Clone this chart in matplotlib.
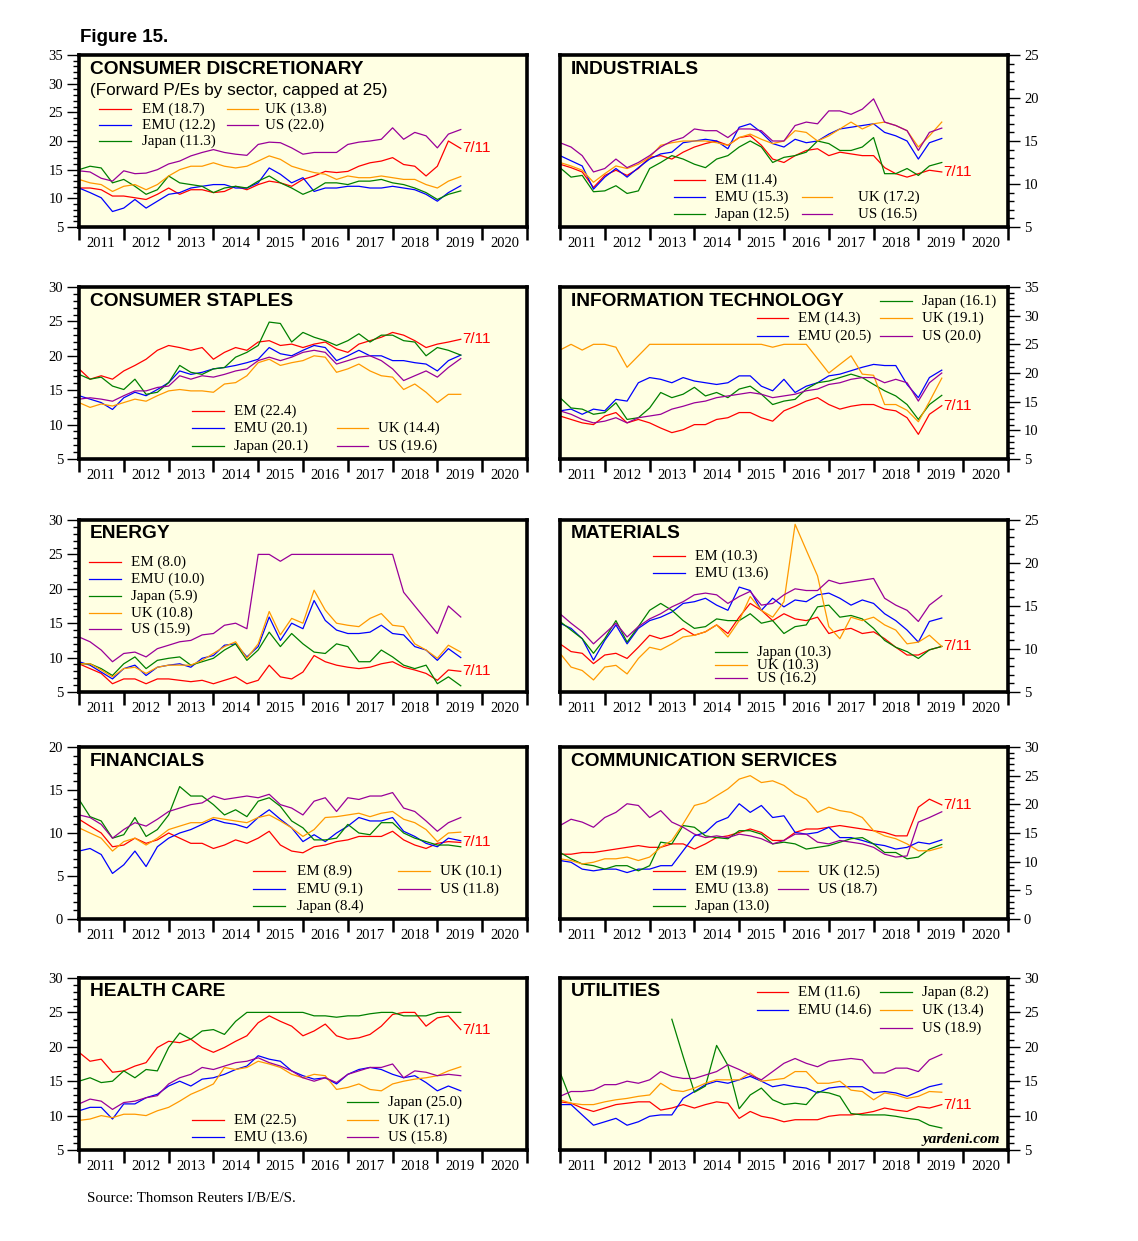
import numpy as np
import pandas as pd
import matplotlib
matplotlib.use("Agg")
import matplotlib.pyplot as plt
import matplotlib.dates as mdates
from matplotlib.lines import Line2D
from matplotlib.ticker import MultipleLocator, NullFormatter

nan = np.nan

# quarterly readings, last one is 7/11/2019
dates = list(pd.date_range("2011-01-01", "2019-04-01", freq="QS")) + [pd.Timestamp("2019-07-11")]

names = ["EM", "EMU", "Japan", "UK", "US"]
colors = {"EM": "#ff0000", "EMU": "#0000ff", "Japan": "#008000", "UK": "#ff9900", "US": "#990099"}

# consumer discretionary
cd_em = [11.8, 11.8, 11.5, 10.4, 10.4, 10.1, 9.8, 10.7, 11.8, 10.7, 11.5, 11.5, 11.0, 11.2, 12.1, 11.5,
         12.4, 13.0, 12.7, 12.1, 13.3, 13.9, 14.7, 14.5, 14.7, 15.6, 16.2, 16.5, 17.1, 15.9, 15.6, 13.9,
         15.6, 20.0, 18.7]
cd_emu = [11.8, 11.0, 10.1, 7.7, 8.3, 9.8, 8.3, 9.5, 10.7, 11.0, 11.8, 12.1, 12.4, 12.4, 11.8, 11.8,
          12.7, 15.3, 14.2, 12.7, 13.6, 11.2, 11.8, 11.8, 12.1, 12.1, 11.8, 11.8, 12.1, 11.8, 11.5, 10.7,
          9.5, 11.0, 12.2]
cd_japan = [15.0, 15.6, 15.3, 12.7, 13.3, 12.1, 10.7, 11.5, 13.9, 12.7, 12.4, 12.1, 11.0, 11.8, 12.1, 11.8,
            13.0, 13.9, 12.7, 11.8, 10.7, 11.5, 12.7, 12.7, 12.4, 13.0, 13.0, 13.3, 12.7, 12.4, 11.8, 11.0,
            9.8, 10.7, 11.3]
cd_uk = [13.3, 12.7, 12.4, 11.2, 12.1, 12.4, 11.5, 12.4, 13.9, 15.0, 15.6, 15.6, 16.2, 15.6, 15.3, 15.6,
         16.5, 17.4, 16.8, 15.6, 15.0, 14.5, 14.2, 13.3, 13.9, 13.6, 13.6, 13.9, 13.6, 13.3, 13.3, 12.4,
         11.8, 13.0, 13.8]
cd_us = [14.8, 14.6, 13.5, 13.0, 14.8, 14.3, 14.4, 15.0, 16.0, 16.5, 17.4, 18.0, 18.5, 18.0, 17.7, 17.5,
         19.4, 19.8, 19.7, 18.8, 17.7, 18.0, 18.0, 18.0, 19.4, 19.8, 20.0, 20.3, 22.3, 20.3, 21.5, 20.9,
         18.8, 21.2, 22.0]

# industrials
ind_em = [12.3, 11.9, 11.4, 9.6, 11.0, 11.6, 11.0, 11.8, 13.1, 13.3, 12.9, 13.7, 14.3, 14.7, 15.0, 14.5,
          15.4, 15.6, 14.5, 12.9, 12.5, 13.3, 13.9, 14.1, 13.3, 13.7, 13.5, 13.3, 13.3, 11.9, 11.2, 10.8,
          11.2, 11.6, 11.4]
ind_emu = [13.3, 12.7, 12.1, 9.4, 10.8, 11.8, 10.8, 11.9, 12.9, 13.5, 13.7, 14.8, 15.0, 15.2, 15.0, 14.1,
           16.6, 17.0, 16.0, 14.7, 14.3, 15.2, 14.8, 15.0, 15.8, 16.4, 16.6, 16.8, 17.0, 16.0, 15.6, 15.0,
           12.9, 14.8, 15.3]
ind_japan = [11.9, 10.8, 11.0, 9.1, 9.2, 9.8, 8.9, 9.2, 11.8, 12.5, 13.3, 12.9, 12.3, 11.9, 12.9, 13.3,
             14.3, 15.0, 14.3, 12.5, 13.1, 13.3, 13.7, 15.0, 14.7, 13.9, 13.9, 14.3, 15.4, 11.2, 11.2, 11.8,
             11.0, 12.1, 12.5]
ind_uk = [12.5, 12.1, 11.6, 10.2, 11.2, 12.1, 11.8, 12.3, 13.1, 14.5, 14.8, 15.0, 15.0, 15.0, 14.8, 14.5,
          15.4, 15.8, 15.2, 14.7, 15.0, 16.2, 16.0, 15.0, 15.6, 16.4, 17.2, 16.4, 17.0, 17.2, 16.8, 16.2,
          14.3, 15.6, 17.2]
ind_us = [14.8, 14.3, 13.3, 11.4, 11.8, 12.9, 11.9, 12.5, 13.3, 14.3, 15.0, 15.4, 16.4, 16.2, 16.2, 15.4,
          16.4, 16.4, 16.2, 15.0, 15.0, 16.8, 17.2, 17.0, 18.5, 18.5, 18.1, 18.7, 19.9, 17.2, 16.8, 16.2,
          13.9, 16.0, 16.5]

# consumer staples
cs_em = [18.1, 16.6, 17.1, 16.6, 17.8, 18.6, 19.5, 20.8, 21.5, 21.2, 20.8, 21.2, 19.5, 20.5, 21.2, 20.8,
         22.0, 22.2, 21.5, 21.7, 21.2, 21.7, 22.0, 21.0, 20.5, 21.7, 22.2, 22.7, 23.4, 23.0, 22.2, 21.2,
         21.7, 22.0, 22.4]
cs_emu = [14.2, 13.7, 13.2, 12.2, 13.9, 14.7, 14.2, 15.1, 16.1, 17.8, 17.3, 17.6, 18.1, 18.3, 18.6, 19.0,
          19.5, 21.2, 20.3, 20.0, 20.8, 21.5, 21.2, 19.3, 20.0, 20.8, 20.0, 20.0, 19.3, 19.3, 19.0, 18.8,
          17.8, 19.3, 20.1]
cs_japan = [17.3, 16.6, 16.9, 15.6, 15.1, 16.6, 14.4, 14.7, 16.1, 18.6, 17.6, 17.3, 18.1, 18.3, 19.8, 20.5,
            21.5, 24.9, 24.7, 22.0, 23.4, 22.7, 22.2, 21.5, 22.2, 23.2, 22.0, 23.0, 23.0, 22.2, 22.0, 20.0,
            21.2, 20.8, 20.1]
cs_uk = [13.2, 12.5, 13.0, 12.7, 13.2, 13.7, 13.4, 14.2, 14.9, 15.1, 14.9, 14.9, 14.7, 15.9, 16.1, 17.1,
         19.0, 19.5, 18.6, 19.0, 19.3, 20.0, 19.8, 17.6, 18.1, 18.8, 17.8, 17.1, 16.9, 15.1, 15.9, 14.7,
         13.2, 14.4, 14.4]
cs_us = [13.7, 13.9, 13.7, 13.4, 14.2, 14.9, 14.9, 15.4, 15.6, 17.1, 16.6, 17.1, 16.9, 17.3, 17.8, 18.1,
         19.3, 19.8, 19.3, 19.8, 20.5, 20.8, 20.5, 18.8, 19.3, 19.8, 20.0, 19.3, 18.1, 16.4, 17.1, 17.8,
         16.9, 18.3, 19.6]

# information technology
it_em = [12.5, 11.9, 11.3, 11.0, 12.5, 13.1, 11.3, 11.9, 11.3, 10.4, 9.6, 10.1, 11.0, 11.0, 11.9, 12.2,
         13.1, 13.1, 12.2, 11.6, 13.4, 14.2, 15.1, 15.7, 14.5, 13.7, 14.2, 14.5, 14.5, 13.7, 13.4, 12.2,
         9.3, 12.8, 14.3]
it_emu = [13.4, 13.7, 12.8, 13.7, 13.4, 15.4, 15.1, 18.3, 19.2, 18.9, 18.3, 19.2, 18.6, 18.3, 18.0, 18.3,
          19.5, 19.5, 17.7, 16.9, 18.9, 16.6, 17.7, 18.3, 19.5, 19.8, 20.4, 21.0, 21.5, 21.3, 21.3, 18.0,
          15.7, 19.2, 20.5]
it_japan = [15.7, 13.9, 13.7, 12.8, 13.1, 14.8, 11.9, 12.2, 13.9, 16.6, 15.7, 16.3, 17.5, 16.0, 16.6, 15.7,
            17.2, 17.7, 16.3, 14.5, 15.1, 15.4, 17.2, 18.3, 18.6, 19.2, 19.8, 19.2, 18.0, 16.9, 16.0, 14.5,
            11.9, 14.5, 16.1]
it_uk = [24.0, 25.0, 24.0, 25.0, 25.0, 24.5, 21.0, 23.0, 25.0, 25.0, 25.0, 25.0, 25.0, 25.0, 25.0, 25.0,
         25.0, 25.0, 25.0, 24.5, 25.0, 25.0, 25.0, 22.5, 20.0, 21.5, 23.0, 19.8, 19.6, 14.5, 14.5, 13.5,
         11.5, 15.0, 19.1]
it_us = [13.4, 12.8, 11.9, 11.3, 11.6, 12.2, 11.3, 12.2, 12.5, 12.8, 13.7, 14.2, 14.8, 15.1, 15.7, 16.0,
         16.3, 16.6, 16.3, 15.7, 16.0, 16.3, 16.9, 17.2, 18.0, 18.3, 18.9, 19.2, 19.2, 18.3, 18.9, 18.3,
         15.1, 18.3, 20.0]

# energy
en_em = [9.1, 8.4, 7.7, 6.2, 6.9, 6.9, 6.2, 6.9, 6.9, 6.7, 6.5, 6.7, 6.2, 6.7, 7.2, 6.2,
         6.7, 8.9, 7.2, 6.9, 7.9, 10.3, 9.4, 8.9, 8.6, 8.4, 8.6, 9.1, 9.4, 8.6, 8.2, 7.7,
         6.7, 8.2, 8.0]
en_emu = [9.4, 8.9, 7.9, 6.9, 8.4, 8.9, 7.4, 8.6, 8.9, 9.1, 8.6, 9.9, 10.3, 11.8, 12.0, 10.1,
          11.6, 15.9, 12.5, 15.0, 14.2, 18.3, 15.4, 14.0, 13.5, 13.5, 13.7, 14.7, 13.5, 13.3, 11.6, 11.1,
          9.6, 11.3, 10.0]
en_japan = [9.1, 9.1, 8.4, 7.4, 9.1, 10.1, 8.4, 9.6, 9.9, 10.1, 8.9, 9.4, 9.9, 11.1, 12.0, 9.6,
            11.1, 13.7, 11.6, 13.5, 12.0, 10.8, 10.6, 12.0, 11.6, 9.4, 9.4, 11.1, 10.1, 8.9, 8.4, 8.9,
            6.2, 7.2, 5.9]
en_uk = [9.1, 9.1, 8.2, 7.2, 8.4, 8.6, 7.7, 8.6, 8.9, 8.9, 8.9, 9.6, 10.6, 11.6, 12.3, 9.9,
         12.0, 16.7, 13.3, 15.7, 15.0, 19.8, 16.9, 15.0, 14.7, 14.5, 15.7, 16.4, 14.7, 14.5, 12.0, 11.1,
         9.9, 11.8, 10.8]
en_us = [13.0, 12.3, 11.1, 9.4, 10.6, 10.8, 10.1, 11.3, 11.8, 12.3, 12.5, 13.3, 13.5, 14.7, 15.0, 14.2,
         25.0, 25.0, 24.0, 25.0, 25.0, 25.0, 25.0, 25.0, 25.0, 25.0, 25.0, 25.0, 25.0, 19.5, 17.5, 15.5,
         13.5, 17.5, 15.9]

# materials
ma_em = [10.6, 9.7, 9.5, 8.3, 9.3, 9.5, 8.9, 10.2, 11.6, 11.2, 11.6, 12.4, 11.6, 12.0, 12.8, 11.8,
         13.7, 15.3, 14.5, 13.3, 14.1, 13.5, 13.3, 13.7, 11.8, 12.2, 12.4, 11.8, 12.0, 11.2, 10.2, 9.3,
         9.3, 9.9, 10.3]
ma_emu = [13.0, 12.4, 11.2, 8.7, 11.0, 12.8, 10.6, 12.4, 13.3, 13.7, 14.3, 15.3, 15.5, 15.9, 15.1, 14.5,
          17.2, 16.8, 14.5, 15.9, 14.9, 15.7, 15.5, 16.3, 16.5, 15.9, 15.1, 15.7, 15.3, 14.1, 13.3, 12.2,
          10.8, 13.2, 13.6]
ma_japan = [13.2, 12.2, 11.2, 9.5, 11.2, 13.3, 10.8, 12.6, 14.5, 15.3, 14.5, 13.3, 12.4, 12.6, 13.5, 13.3,
            13.3, 14.1, 13.0, 13.3, 11.8, 12.6, 12.8, 14.9, 15.1, 13.7, 13.9, 13.5, 12.4, 11.0, 10.2, 9.7,
            8.9, 9.9, 10.3]
ma_uk = [9.5, 7.9, 7.5, 6.4, 7.9, 8.1, 7.1, 8.9, 10.2, 9.9, 10.6, 11.4, 11.6, 12.0, 12.8, 11.4,
         13.3, 16.1, 14.5, 13.7, 15.5, 24.5, 21.5, 18.5, 12.6, 11.2, 13.7, 13.3, 13.7, 12.8, 12.2, 10.6,
         10.8, 11.6, 10.3]
ma_us = [14.1, 13.0, 12.0, 10.6, 11.8, 13.0, 11.4, 12.6, 13.5, 14.1, 14.9, 15.5, 16.3, 16.5, 16.3, 15.3,
         16.1, 16.7, 15.1, 15.3, 16.3, 17.0, 16.8, 16.8, 18.0, 17.6, 17.8, 18.0, 18.2, 15.9, 15.1, 14.5,
         13.2, 15.1, 16.2]

# financials
fi_em = [11.6, 10.8, 10.0, 8.4, 8.6, 9.4, 8.8, 9.2, 10.0, 9.4, 8.8, 8.8, 8.2, 8.6, 9.2, 8.8,
         9.4, 10.2, 8.6, 7.9, 7.7, 8.4, 8.6, 9.0, 9.2, 9.6, 9.6, 9.6, 10.2, 9.2, 8.6, 8.2,
         8.8, 9.0, 8.9]
fi_emu = [7.9, 8.2, 7.5, 5.3, 6.3, 7.9, 6.1, 8.4, 9.4, 10.0, 10.4, 11.0, 11.6, 11.2, 11.0, 10.6,
          11.8, 12.7, 11.6, 10.6, 9.0, 9.8, 9.0, 10.0, 10.8, 11.8, 11.4, 11.4, 11.8, 10.2, 9.6, 8.8,
          8.4, 9.4, 9.1]
fi_japan = [13.9, 11.9, 11.4, 9.4, 9.8, 11.8, 9.6, 10.4, 12.1, 15.4, 14.3, 14.3, 13.3, 12.1, 12.7, 11.9,
            13.7, 14.1, 13.1, 11.4, 10.6, 9.2, 9.2, 9.4, 11.0, 10.0, 9.8, 11.2, 11.2, 10.0, 9.4, 9.0,
            8.6, 8.6, 8.4]
fi_uk = [10.6, 10.0, 9.4, 7.9, 9.0, 9.4, 8.6, 9.4, 10.4, 10.8, 11.2, 11.2, 11.8, 11.6, 11.4, 11.2,
         11.8, 12.1, 11.4, 10.6, 9.6, 10.4, 11.8, 11.9, 12.1, 12.3, 11.9, 12.3, 12.5, 11.6, 11.2, 10.4,
         9.0, 10.0, 10.1]
fi_us = [12.1, 11.8, 11.0, 9.4, 10.4, 11.2, 10.8, 11.6, 12.5, 12.9, 13.3, 13.5, 14.3, 13.9, 14.1, 14.3,
         14.1, 14.5, 13.3, 12.9, 12.1, 13.7, 14.1, 12.5, 14.1, 13.9, 14.3, 14.3, 14.7, 12.9, 12.5, 11.4,
         10.2, 11.2, 11.8]

# communication services
co_em = [11.3, 11.3, 11.6, 11.6, 11.9, 12.2, 12.5, 12.8, 12.5, 12.5, 13.1, 13.1, 12.2, 13.1, 14.2, 14.5,
         15.1, 15.7, 15.1, 13.7, 13.7, 15.1, 15.7, 15.7, 16.0, 16.3, 16.0, 15.7, 15.4, 15.1, 14.5, 14.5,
         19.5, 20.9, 19.9]
co_emu = [10.2, 9.9, 8.7, 8.4, 8.7, 8.7, 8.1, 8.7, 8.7, 9.3, 9.3, 11.9, 14.5, 15.1, 16.9, 17.7,
          20.1, 18.6, 19.8, 17.7, 18.0, 15.1, 14.8, 15.1, 16.0, 14.2, 14.2, 13.7, 13.1, 12.8, 12.2, 12.5,
          13.4, 13.1, 13.8]
co_japan = [11.6, 10.5, 9.6, 9.3, 8.7, 9.3, 9.3, 8.4, 9.3, 13.4, 13.1, 16.3, 16.0, 14.5, 14.2, 14.0,
            15.4, 15.4, 14.8, 13.1, 13.4, 13.1, 12.2, 12.5, 12.8, 13.4, 14.0, 14.2, 13.1, 11.6, 11.6, 10.5,
            10.8, 12.2, 13.0]
co_uk = [10.5, 10.2, 9.6, 9.9, 10.5, 10.5, 10.8, 10.2, 10.8, 12.5, 13.7, 16.6, 19.8, 20.3, 21.5, 22.7,
         24.4, 25.0, 23.8, 24.1, 23.3, 21.8, 20.9, 18.6, 19.5, 18.9, 18.6, 17.7, 15.4, 14.5, 14.0, 13.1,
         11.9, 11.9, 12.5]
co_us = [16.3, 17.4, 16.9, 16.0, 17.7, 18.6, 20.1, 19.8, 17.7, 18.9, 16.9, 16.0, 14.8, 14.2, 14.5, 14.2,
         14.8, 14.5, 14.0, 13.1, 13.7, 14.8, 14.8, 13.4, 13.1, 13.7, 13.4, 13.1, 12.5, 11.3, 10.8, 11.0,
         16.9, 17.7, 18.7]

# health care
hc_em = [19.2, 17.9, 18.2, 16.3, 16.5, 17.2, 17.7, 19.9, 20.8, 20.6, 21.1, 19.9, 19.2, 19.9, 20.8, 21.6,
         23.5, 24.5, 23.7, 23.0, 21.6, 22.3, 23.3, 21.6, 21.1, 21.3, 21.8, 23.0, 24.7, 25.0, 25.0, 23.0,
         24.2, 24.5, 22.5]
hc_emu = [10.7, 11.2, 11.2, 9.5, 11.7, 11.7, 12.6, 13.1, 14.3, 15.0, 14.3, 15.3, 15.5, 16.0, 16.7, 17.2,
          18.7, 18.2, 17.9, 16.5, 15.8, 15.3, 15.5, 14.6, 16.0, 16.7, 17.0, 16.7, 16.0, 15.5, 15.8, 14.8,
          13.6, 14.3, 13.6]
hc_japan = [15.0, 15.5, 14.8, 15.0, 16.5, 15.5, 16.7, 16.5, 19.9, 22.0, 21.1, 22.3, 22.5, 21.8, 23.7, 25.0,
            25.0, 25.0, 25.0, 25.0, 25.0, 24.5, 24.5, 24.3, 24.5, 24.5, 24.8, 25.0, 25.0, 24.5, 24.5, 24.5,
            25.0, 25.0, 25.0]
hc_uk = [9.3, 9.5, 10.0, 9.7, 10.2, 10.2, 10.0, 10.7, 11.2, 12.1, 13.1, 13.8, 14.6, 17.0, 16.7, 17.0,
         17.9, 17.5, 17.0, 16.0, 15.5, 16.0, 15.8, 13.8, 14.1, 14.6, 13.8, 13.6, 14.6, 15.0, 15.3, 15.5,
         15.8, 16.5, 17.1]
hc_us = [11.7, 12.4, 12.1, 10.9, 11.9, 12.1, 12.6, 12.9, 14.6, 15.5, 16.0, 17.0, 16.7, 17.2, 17.7, 17.9,
         18.4, 17.7, 17.2, 16.5, 15.5, 15.0, 15.5, 14.8, 16.0, 16.5, 17.0, 17.0, 17.5, 15.5, 16.5, 16.3,
         15.8, 16.0, 15.8]

# utilities
ut_em = [12.0, 11.8, 11.1, 10.6, 11.1, 11.6, 11.8, 12.0, 12.0, 10.8, 11.1, 11.6, 11.1, 11.6, 12.0, 11.8,
         9.6, 10.6, 9.9, 9.6, 9.1, 9.4, 9.4, 9.4, 9.9, 10.1, 10.1, 10.3, 10.6, 11.1, 10.8, 10.6,
         11.3, 11.1, 11.6]
ut_emu = [11.6, 11.6, 10.1, 8.6, 9.1, 9.6, 8.6, 9.1, 9.9, 10.1, 10.1, 12.5, 13.5, 14.5, 15.0, 14.7,
          15.2, 15.7, 15.0, 14.2, 14.5, 14.2, 14.0, 13.3, 14.0, 14.2, 14.2, 14.2, 13.3, 13.5, 13.3, 12.8,
          13.5, 14.2, 14.6]
ut_japan = [16.3, 12.2, nan, nan, nan, nan, nan, nan, nan, nan, 24.0, 18.6, 13.4, 14.3, 20.2, 17.3,
            11.0, 13.0, 14.0, 12.3, 11.6, 11.8, 11.6, 13.5, 13.3, 12.8, 10.3, 10.1, 10.1, 10.1, 9.9, 9.6,
            9.4, 8.6, 8.2]
ut_uk = [12.3, 11.8, 11.6, 11.6, 12.0, 12.3, 12.5, 12.8, 13.0, 14.7, 13.7, 13.5, 14.0, 14.7, 15.2, 15.2,
         15.2, 16.2, 15.0, 15.2, 15.4, 16.4, 16.4, 14.7, 14.7, 15.0, 13.7, 13.5, 12.3, 13.3, 13.0, 12.5,
         12.8, 13.5, 13.4]
ut_us = [12.8, 13.5, 13.5, 13.7, 14.5, 14.5, 15.0, 14.7, 15.2, 16.4, 15.7, 15.4, 15.4, 15.9, 16.4, 17.4,
         16.7, 15.9, 15.2, 16.4, 17.6, 18.3, 17.6, 17.1, 17.9, 18.1, 18.3, 18.1, 16.2, 16.2, 16.9, 16.9,
         16.4, 18.1, 18.9]

# legend layout in figure pixels: series -> (line x0, line x1, text x, y)
leg_cd = {"EM": (99, 131, 142, 109), "EMU": (99, 131, 142, 125), "Japan": (99, 131, 142, 141),
          "UK": (227, 258, 265, 109), "US": (227, 258, 265, 125)}
leg_ind = {"EM": (674, 705, 715, 180), "EMU": (674, 705, 715, 197), "Japan": (674, 705, 715, 214),
           "UK": (802, 832, 858, 197), "US": (802, 832, 858, 214)}
leg_cs = {"EM": (192, 224, 234, 411), "EMU": (192, 224, 234, 428), "Japan": (192, 224, 234, 446),
          "UK": (337, 368, 378, 428), "US": (337, 368, 378, 446)}
leg_it = {"EM": (757, 788, 798, 318), "EMU": (757, 788, 798, 336), "Japan": (880, 912, 922, 301),
          "UK": (880, 912, 922, 318), "US": (880, 912, 922, 336)}
leg_en = {"EM": (89, 121, 131, 562), "EMU": (89, 121, 131, 579), "Japan": (89, 121, 131, 596),
          "UK": (89, 121, 131, 613), "US": (89, 121, 131, 629)}
leg_ma = {"EM": (653, 685, 695, 556), "EMU": (653, 685, 695, 573), "Japan": (715, 747, 757, 652),
          "UK": (715, 747, 757, 665), "US": (715, 747, 757, 678)}
leg_fi = {"EM": (253, 285, 297, 871), "EMU": (253, 285, 297, 889), "Japan": (253, 285, 297, 906),
          "UK": (398, 430, 440, 871), "US": (398, 430, 440, 889)}
leg_co = {"EM": (653, 685, 695, 871), "EMU": (653, 685, 695, 889), "Japan": (653, 685, 695, 906),
          "UK": (778, 808, 818, 871), "US": (778, 808, 818, 889)}
leg_hc = {"EM": (192, 224, 234, 1120), "EMU": (192, 224, 234, 1137), "Japan": (347, 378, 388, 1102),
          "UK": (347, 378, 388, 1120), "US": (347, 378, 388, 1137)}
leg_ut = {"EM": (757, 788, 798, 992), "EMU": (757, 788, 798, 1010), "Japan": (880, 912, 922, 992),
          "UK": (880, 912, 922, 1010), "US": (880, 912, 922, 1028)}

panels = [
    ("CONSUMER DISCRETIONARY", [cd_em, cd_emu, cd_japan, cd_uk, cd_us], (5, 35), leg_cd),
    ("INDUSTRIALS", [ind_em, ind_emu, ind_japan, ind_uk, ind_us], (5, 25), leg_ind),
    ("CONSUMER STAPLES", [cs_em, cs_emu, cs_japan, cs_uk, cs_us], (5, 30), leg_cs),
    ("INFORMATION TECHNOLOGY", [it_em, it_emu, it_japan, it_uk, it_us], (5, 35), leg_it),
    ("ENERGY", [en_em, en_emu, en_japan, en_uk, en_us], (5, 30), leg_en),
    ("MATERIALS", [ma_em, ma_emu, ma_japan, ma_uk, ma_us], (5, 25), leg_ma),
    ("FINANCIALS", [fi_em, fi_emu, fi_japan, fi_uk, fi_us], (0, 20), leg_fi),
    ("COMMUNICATION SERVICES", [co_em, co_emu, co_japan, co_uk, co_us], (0, 30), leg_co),
    ("HEALTH CARE", [hc_em, hc_emu, hc_japan, hc_uk, hc_us], (5, 30), leg_hc),
    ("UTILITIES", [ut_em, ut_emu, ut_japan, ut_uk, ut_us], (5, 30), leg_ut),
]

W, H = 1138, 1241
SERIF = "Liberation Serif"
SANS = "Liberation Sans"
plt.rcParams["font.family"] = SERIF

fig = plt.figure(figsize=(W / 100, H / 100), dpi=100)


def fx(x):
    return x / W


def fy(y):
    return 1 - y / H


row_tops = [55, 287, 520, 747, 978]
col_lefts = [79, 560]
box_w, box_h = 448, 172

for i, (title, vals, ylim, leg) in enumerate(panels):
    row, col = i // 2, i % 2
    left, top = col_lefts[col], row_tops[row]
    ax = fig.add_axes([fx(left), fy(top + box_h), box_w / W, box_h / H])
    ax.set_facecolor("#ffffe3")

    for name, v in zip(names, vals):
        ax.plot(dates, np.minimum(np.array(v, dtype=float), 25), color=colors[name], lw=0.9)

    ax.set_xlim(pd.Timestamp("2011-01-01"), pd.Timestamp("2021-01-01"))
    ax.set_ylim(*ylim)

    ax.xaxis.set_major_locator(mdates.YearLocator())
    ax.xaxis.set_major_formatter(NullFormatter())
    ax.xaxis.set_minor_locator(mdates.MonthLocator(bymonth=7))
    ax.xaxis.set_minor_formatter(mdates.DateFormatter("%Y"))
    ax.tick_params(axis="x", which="major", length=9, width=1.8, direction="out")
    ax.tick_params(axis="x", which="minor", length=0, pad=7, labelsize=10.5)

    ax.yaxis.set_major_locator(MultipleLocator(5))
    ax.yaxis.set_minor_locator(MultipleLocator(1))
    ax.tick_params(axis="y", which="major", length=8.5, width=1, labelsize=10.5, pad=3)
    ax.tick_params(axis="y", which="minor", length=4.3, width=1)
    if col == 1:
        ax.yaxis.tick_right()

    for sp in ax.spines.values():
        sp.set_linewidth(2.6)
        sp.set_zorder(5)

    # 7/11 marker at the latest EM reading
    ax.text(pd.Timestamp("2019-07-22"), vals[0][-1], "7/11", color="#ff0000", family=SANS,
            fontsize=11, va="center", ha="left")

    fig.text(fx(left + 11), fy(top + 14), title, family=SANS, fontweight="bold",
             fontsize=13.8, va="center", ha="left")

    for name, v in zip(names, vals):
        x0, x1, xt, y = leg[name]
        fig.add_artist(Line2D([fx(x0), fx(x1)], [fy(y), fy(y)], color=colors[name], lw=0.9))
        fig.text(fx(xt), fy(y), f"{name} ({v[-1]:.1f})", fontsize=10.8, va="center", ha="left")

fig.text(fx(80), fy(37), "Figure 15.", family=SANS, fontweight="bold", fontsize=13.5,
         va="center", ha="left")
fig.text(fx(90), fy(90), "(Forward P/Es by sector, capped at 25)", family=SANS, fontsize=12.3,
         va="center", ha="left")
fig.text(fx(1000), fy(1140), "yardeni.com", fontsize=11, fontweight="bold", fontstyle="italic",
         va="center", ha="right")
fig.text(fx(87), fy(1198), "Source: Thomson Reuters I/B/E/S.", fontsize=10.8, va="center", ha="left")

fig.savefig("out.png", dpi=100, facecolor="white")
